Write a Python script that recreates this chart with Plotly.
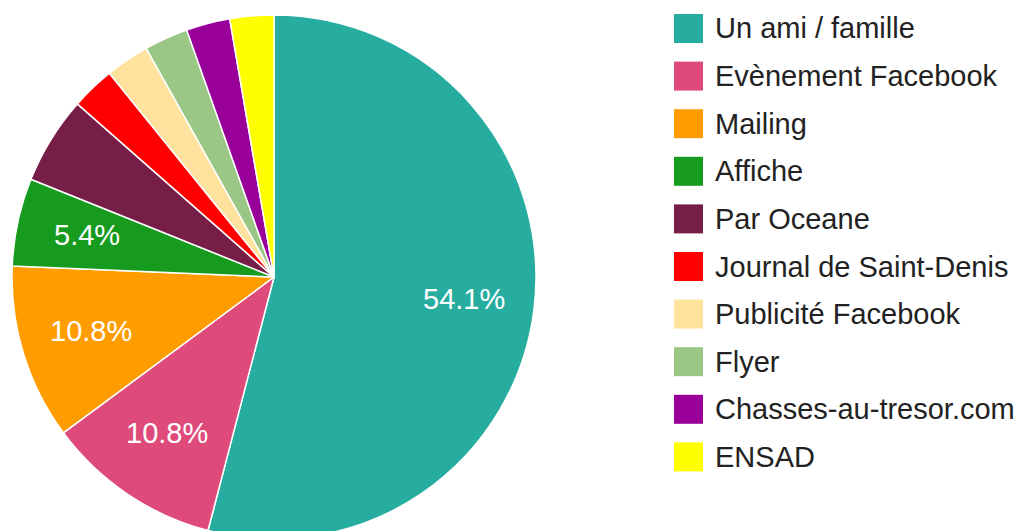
import math
import plotly.graph_objects as go

labels = ["Un ami / famille", "Evènement Facebook", "Mailing", "Affiche", "Par Oceane",
          "Journal de Saint-Denis", "Publicité Facebook", "Flyer", "Chasses-au-tresor.com", "ENSAD"]
values = [20, 4, 4, 2, 2, 1, 1, 1, 1, 1]
colors = ["#27ad9f", "#de4b7b", "#ff9d00", "#169b1e", "#761e48",
          "#ff0000", "#ffe29e", "#9ac686", "#990099", "#ffff00"]
shown_labels = [True, True, True, True, False, False, False, False, False, False]

W, H = 1026, 531
OFF = 8  # page body margin
mt = 15 - OFF
ph = 524
mb = H - mt - ph
total = sum(values)
FONT = "Liberation Sans, Arial, sans-serif"

cx = 274 - OFF
R = ph / 2
cy = mt + R
dom = dict(x=[(cx - R) / W, (cx + R) / W], y=[0, 1])

fig = go.Figure()
fig.add_trace(go.Pie(
    labels=labels, values=values, sort=False, direction="clockwise", rotation=0,
    marker=dict(colors=colors, line=dict(color="white", width=1.5)),
    textinfo="none", domain=dom, showlegend=False, hoverinfo="label+percent",
))

annotations, shapes = [], []
# percentage labels placed along each slice's mid-angle (clockwise from 12 o'clock)
LABEL_R = 0.73
cum = 0
for v, s in zip(values, shown_labels):
    mid = (cum + v / 2) / total * 2 * math.pi
    cum += v
    if not s:
        continue
    px = cx + LABEL_R * R * math.sin(mid)
    py = cy - LABEL_R * R * math.cos(mid) - 2
    annotations.append(dict(xref="paper", yref="paper", x=px / W, y=1 - (py - mt) / ph,
                            text=f"{v / total * 100:.1f}%", showarrow=False,
                            xanchor="center", yanchor="middle",
                            font=dict(family=FONT, size=29, color="white")))

# custom legend
for i, (lab, col) in enumerate(zip(labels, colors)):
    ly = 28.5 - OFF + 47.6 * i
    shapes.append(dict(type="rect", xref="paper", yref="paper",
                       x0=(674 - OFF) / W, x1=(703 - OFF) / W,
                       y0=1 - (ly + 14.5 - mt) / ph, y1=1 - (ly - 14.5 - mt) / ph,
                       fillcolor=col, line=dict(width=0)))
    annotations.append(dict(xref="paper", yref="paper", x=(713 - OFF) / W, y=1 - (ly - mt) / ph,
                            text=lab, showarrow=False, xanchor="left", yanchor="middle",
                            font=dict(family=FONT, size=29, color="#222222")))

fig.update_layout(width=W, height=H, margin=dict(l=0, r=0, t=mt, b=mb),
                  paper_bgcolor="white", plot_bgcolor="white",
                  shapes=shapes, annotations=annotations)
fig.write_html("out.html")
